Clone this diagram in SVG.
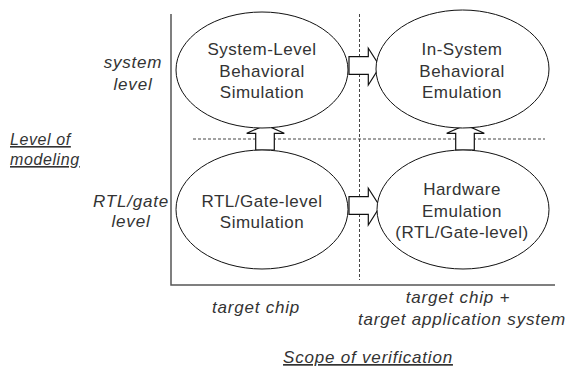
<svg xmlns="http://www.w3.org/2000/svg" width="570" height="368" viewBox="0 0 570 368">
<style>
text{font-family:"Liberation Sans",Arial,sans-serif;fill:#333}
.n{font-size:17px;letter-spacing:0.5px;text-anchor:middle}
.i{font-size:17px;font-style:italic;letter-spacing:0.8px;text-anchor:middle}
.l{font-size:16px;font-style:italic;letter-spacing:0.6px;text-anchor:start;text-decoration:underline}
.u{text-decoration:underline}
.ax{stroke:#555;stroke-width:1.5;fill:none}
.dash{stroke:#444;stroke-width:1;stroke-dasharray:3 2;fill:none}
.el{fill:#fff;stroke:#111;stroke-width:1}
.arr{fill:#fff;stroke:#111;stroke-width:1.2;stroke-linejoin:miter}
</style>
<rect width="570" height="368" fill="#fff"/>
<g id="axes">
<path class="ax" d="M171,14 V285 H555"/>
<path class="dash" d="M359.5,14 V280"/>
<path class="dash" d="M193,139 H545"/>
</g>
<g id="connectors">
<path class="arr" d="M349,56.7 H368.3 V48.3 L380,66.5 L368.3,85 V74.3 H349 Z"/>
<path class="arr" d="M349,196.7 H368.3 V188.3 L380,206.5 L368.3,225 V214.3 H349 Z"/>
<path class="arr" d="M255.7,150 V133.3 H246.7 L265.5,125 L284.3,133.3 H274.3 V150 Z"/>
<path class="arr" d="M455.7,150 V133.3 H446.7 L465.5,125 L484.3,133.3 H474.3 V150 Z"/>
</g>
<g id="n1">
<ellipse class="el" cx="262" cy="70" rx="86" ry="58"/>
<text class="n" x="262" y="55">System-Level</text>
<text class="n" x="262" y="77">Behavioral</text>
<text class="n" x="262" y="98">Simulation</text>
</g>
<g id="n2">
<ellipse class="el" cx="462.5" cy="69" rx="86.5" ry="59"/>
<text class="n" x="462" y="55">In-System</text>
<text class="n" x="462" y="77">Behavioral</text>
<text class="n" x="462" y="98">Emulation</text>
</g>
<g id="n3">
<ellipse class="el" cx="262" cy="209.5" rx="86" ry="59.5"/>
<text class="n" x="262" y="207">RTL/Gate-level</text>
<text class="n" x="262" y="228">Simulation</text>
</g>
<g id="n4">
<ellipse class="el" cx="463" cy="209.5" rx="86" ry="59.5"/>
<text class="n" x="462" y="195">Hardware</text>
<text class="n" x="462" y="217">Emulation</text>
<text class="n" x="462" y="238">(RTL/Gate-level)</text>
</g>
<g id="labels">
<text class="i" x="133" y="68">system</text>
<text class="i" x="133" y="90">level</text>
<text class="l" x="10" y="145">Level of</text>
<text class="l" x="10" y="165">modeling</text>
<text class="i" x="131" y="207">RTL/gate</text>
<text class="i" x="131" y="227">level</text>
<text class="i" x="256" y="313">target chip</text>
<text class="i" x="458" y="303">target chip +</text>
<text class="i" x="462" y="325">target application system</text>
<text class="i u" x="368" y="363">Scope of verification</text>
</g>
</svg>
